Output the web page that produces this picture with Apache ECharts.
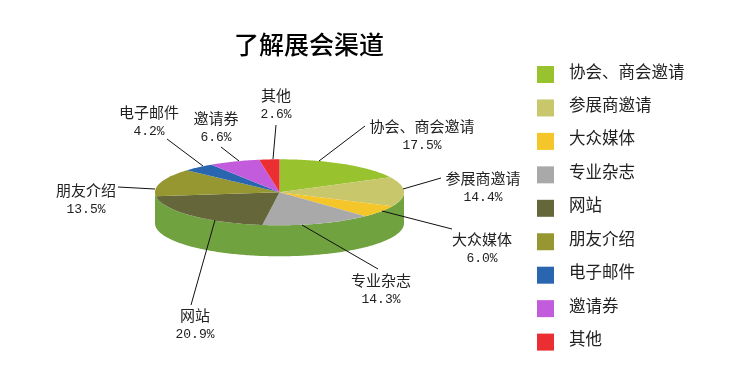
<!DOCTYPE html>
<html>
<head>
<meta charset="utf-8">
<title>了解展会渠道</title>
<style>
html, body { margin: 0; padding: 0; background: #fff; }
#chart { width: 734px; height: 391px; }
</style>
</head>
<body>
<div id="chart"></div>
<script src="https://cdn.jsdelivr.net/npm/echarts@6/dist/echarts.min.js"></script>
<script>
var categories = ['协会、商会邀请', '参展商邀请', '大众媒体', '专业杂志', '网站', '朋友介绍', '电子邮件', '邀请券', '其他'];
var shares = [17.5, 14.4, 6.0, 14.3, 20.9, 13.5, 4.2, 6.6, 2.6];
var colors = ['#99c32e', '#c8c76c', '#f5c62a', '#a9a9a9', '#65663a', '#979732', '#2a66b0', '#c25cdc', '#ea2e32'];

// label centre, then leader line from the pie to the label
var labelPos = [[422, 136], [483, 188], [482, 249], [381, 290], [195, 325], [86, 200], [149, 122], [216, 128], [276, 105]];
var leaders = [
	[[319, 161], [365, 126]],
	[[403, 189], [441, 178]],
	[[382, 211], [452, 229]],
	[[302, 225], [378, 269]],
	[[215, 220], [191, 305]],
	[[155, 189], [118, 187]],
	[[203, 166], [167, 139]],
	[[239, 161], [221, 147]],
	[[273, 159], [276, 125]]
];

var pie = { cx: 279.5, cy: 192.3, rx: 124.5, ry: 33, depth: 31 };
var sideColor = '#70a240';

function rimPoint(turn, dy) {
	var a = turn * Math.PI * 2;
	return [pie.cx + pie.rx * Math.sin(a), pie.cy + dy - pie.ry * Math.cos(a)];
}

function arcPoints(t0, t1, dy) {
	var pts = [];
	var n = Math.max(2, Math.ceil((t1 - t0) * 360));
	for (var i = 0; i <= n; i++) {
		pts.push(rimPoint(t0 + (t1 - t0) * i / n, dy));
	}
	return pts;
}

function renderSlice(index) {
	return function(params, api) {
		var start = api.value(1) / 100;
		var end = start + api.value(0) / 100;
		var children = [];

		// the reference has one green wall all round, so draw it once
		if (index === 0) {
			children.push({
				type: 'polygon',
				z2: 1,
				shape: { points: arcPoints(0.25, 0.75, 0).concat(arcPoints(0.25, 0.75, pie.depth).reverse()) },
				style: { fill: sideColor }
			});
		}

		children.push({
			type: 'polygon',
			z2: 2,
			shape: { points: [[pie.cx, pie.cy]].concat(arcPoints(start, end, 0)) },
			style: { fill: colors[index] }
		});

		children.push({
			type: 'line',
			z2: 3,
			shape: {
				x1: leaders[index][0][0],
				y1: leaders[index][0][1],
				x2: leaders[index][1][0],
				y2: leaders[index][1][1]
			},
			style: { stroke: '#111', lineWidth: 1 }
		});

		children.push({
			type: 'text',
			z2: 4,
			x: labelPos[index][0],
			y: labelPos[index][1],
			style: {
				text: '{n|' + categories[index] + '}\n{p|' + api.value(0).toFixed(1) + '%}',
				align: 'center',
				verticalAlign: 'middle',
				rich: {
					n: { fontFamily: '"Noto Sans CJK SC"', fontSize: 15, lineHeight: 20, fill: '#222', align: 'center' },
					p: { fontFamily: '"Liberation Mono"', fontSize: 13, lineHeight: 20, fill: '#222', align: 'center' }
				}
			}
		});

		return { type: 'group', children: children };
	};
}

var mychart = echarts.init(document.getElementById('chart'));

var seriesList = [];
var running = 0;
for (var i = 0; i < categories.length; i++) {
	seriesList.push({
		type: 'custom',
		name: categories[i],
		coordinateSystem: 'none',
		renderItem: renderSlice(i),
		itemStyle: { color: colors[i] },
		data: [[shares[i], running]],
		animation: false,
		silent: true
	});
	running += shares[i];
}

var option = {
	backgroundColor: '#fff',
	animation: false,
	title: {
		text: '了解展会渠道',
		left: 229,
		top: 27,
		textStyle: {
			fontFamily: '"Noto Sans CJK SC"',
			fontSize: 25,
			fontWeight: 500,
			color: '#000'
		}
	},
	legend: {
		orient: 'vertical',
		left: 537,
		top: 63,
		padding: 0,
		itemWidth: 17,
		itemHeight: 17,
		itemGap: 13.45,
		icon: 'rect',
		selectedMode: false,
		data: categories,
		formatter: '{t|{name}}',
		textStyle: {
			rich: {
				t: {
					fontFamily: '"Noto Sans CJK SC"',
					fontSize: 16.5,
					color: '#222',
					lineHeight: 23,
					verticalAlign: 'top',
					padding: [0, 0, 0, 10]
				}
			}
		}
	},
	series: seriesList
};

mychart.setOption(option);
</script>
</body>
</html>
